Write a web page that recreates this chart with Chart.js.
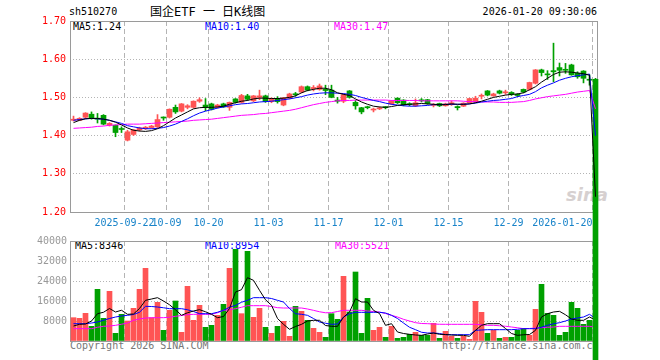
<!DOCTYPE html>
<html><head><meta charset="utf-8">
<script src="https://cdn.jsdelivr.net/npm/chart.js@4/dist/chart.umd.min.js"></script>
<style>
html,body{margin:0;padding:0;background:#fff;}
#wrap{position:relative;width:660px;height:360px;overflow:hidden;font-family:'DejaVu Sans Mono',monospace;font-size:10px;}
.t{position:absolute;white-space:pre;line-height:12px;}
canvas{position:absolute;left:0;top:0;width:660px;height:360px;}
</style></head><body>
<div id="wrap">
<div class="t" style="left:69px;top:6px;color:#000">sh510270</div>
<div class="t" style="left:150px;top:4px;font-size:12px;line-height:16px;font-family:'DejaVu Sans Mono','Noto Sans CJK SC',sans-serif;color:#000">国企ETF 一 日K线图</div>
<div class="t" style="right:63px;top:6px;color:#000">2026-01-20 09:30:06</div>
<div class="t" id="pl5" style="left:73px;top:21px;color:#000"></div>
<div class="t" id="pl10" style="left:205px;top:21px;color:#0000ff"></div>
<div class="t" id="pl30" style="left:334px;top:21px;color:#ff00ff"></div>
<div class="t" id="vl5" style="left:75px;top:240px;color:#000"></div>
<div class="t" id="vl10" style="left:205px;top:240px;color:#0000ff"></div>
<div class="t" id="vl30" style="left:335px;top:240px;color:#ff00ff"></div>
<div class="t" style="left:566px;top:184px;font:italic bold 18px 'DejaVu Sans',sans-serif;color:#d6d0d0">sina</div>
<div class="t" style="left:70px;top:340px;color:#777">Copyright 2026 SINA.COM</div>
<div class="t" style="left:442px;top:340px;color:#777">http://finance.sina.com.cn</div>
<canvas id="vol" width="660" height="360"></canvas>
<canvas id="price" width="660" height="360"></canvas>
</div>
<script>
const dates = ['2025-09-09','2025-09-10','2025-09-11','2025-09-12','2025-09-15','2025-09-16','2025-09-17','2025-09-18','2025-09-19',
'2025-09-22','2025-09-23','2025-09-24','2025-09-25','2025-09-26','2025-09-29','2025-09-30',
'2025-10-09','2025-10-10','2025-10-13','2025-10-14','2025-10-15','2025-10-16','2025-10-17',
'2025-10-20','2025-10-21','2025-10-22','2025-10-23','2025-10-24','2025-10-27','2025-10-28','2025-10-29','2025-10-30','2025-10-31',
'2025-11-03','2025-11-04','2025-11-05','2025-11-06','2025-11-07','2025-11-10','2025-11-11','2025-11-12','2025-11-13','2025-11-14',
'2025-11-17','2025-11-18','2025-11-19','2025-11-20','2025-11-21','2025-11-24','2025-11-25','2025-11-26','2025-11-27','2025-11-28',
'2025-12-01','2025-12-02','2025-12-03','2025-12-04','2025-12-05','2025-12-08','2025-12-09','2025-12-10','2025-12-11','2025-12-12',
'2025-12-15','2025-12-16','2025-12-17','2025-12-18','2025-12-19','2025-12-22','2025-12-23','2025-12-24','2025-12-25','2025-12-26',
'2025-12-29','2025-12-30','2025-12-31',
'2026-01-05','2026-01-06','2026-01-07','2026-01-08','2026-01-09','2026-01-12','2026-01-13','2026-01-14','2026-01-15','2026-01-16',
'2026-01-19','2026-01-20'];

const opens = [1.440,1.440,1.448,1.456,1.444,1.453,1.427,1.427,1.418,1.388,
1.403,1.415,1.418,1.421,1.423,1.448,1.448,1.474,1.464,1.474,
1.474,1.490,1.480,1.483,1.474,1.483,1.474,1.496,1.487,1.504,
1.491,1.500,1.504,1.489,1.497,1.480,1.498,1.509,1.514,1.528,
1.523,1.521,1.521,1.519,1.493,1.490,1.517,1.487,1.473,1.475,
1.467,1.470,1.474,1.483,1.498,1.493,1.483,1.478,1.493,1.494,
1.479,1.484,1.478,1.482,1.476,1.477,1.486,1.488,1.503,1.517,
1.504,1.517,1.512,1.513,1.508,1.521,1.521,1.537,1.572,1.561,
1.570,1.578,1.573,1.585,1.563,1.569,1.547,1.547];

const highs = [1.451,1.447,1.460,1.462,1.458,1.455,1.434,1.428,1.423,1.414,
1.416,1.422,1.424,1.427,1.455,1.449,1.470,1.480,1.484,1.481,
1.491,1.499,1.497,1.485,1.482,1.485,1.488,1.497,1.508,1.508,
1.505,1.519,1.506,1.499,1.502,1.500,1.511,1.513,1.530,1.530,
1.531,1.535,1.532,1.532,1.500,1.509,1.518,1.492,1.474,1.477,
1.472,1.475,1.476,1.492,1.499,1.494,1.486,1.496,1.497,1.495,
1.484,1.485,1.485,1.491,1.478,1.486,1.498,1.503,1.509,1.518,
1.511,1.519,1.519,1.515,1.510,1.522,1.540,1.573,1.574,1.570,
1.642,1.590,1.589,1.587,1.567,1.570,1.559,1.550];

const lows = [1.438,1.439,1.444,1.443,1.433,1.428,1.425,1.397,1.408,1.386,
1.400,1.412,1.416,1.419,1.421,1.440,1.446,1.458,1.462,1.470,
1.472,1.487,1.465,1.467,1.472,1.474,1.466,1.485,1.485,1.492,
1.489,1.494,1.487,1.486,1.485,1.478,1.496,1.503,1.512,1.517,
1.517,1.519,1.507,1.499,1.485,1.486,1.498,1.469,1.457,1.470,
1.462,1.468,1.470,1.481,1.484,1.478,1.478,1.476,1.488,1.482,
1.475,1.476,1.477,1.479,1.467,1.476,1.485,1.487,1.496,1.504,
1.503,1.509,1.508,1.505,1.502,1.512,1.519,1.535,1.556,1.547,
1.541,1.556,1.563,1.558,1.550,1.538,1.532,0];

const closes = [1.443,1.445,1.459,1.447,1.443,1.430,1.432,1.408,1.416,1.410,
1.415,1.420,1.422,1.425,1.442,1.446,1.469,1.462,1.483,1.478,
1.490,1.494,1.474,1.469,1.480,1.475,1.487,1.487,1.505,1.495,
1.504,1.504,1.489,1.497,1.489,1.499,1.509,1.507,1.528,1.519,
1.526,1.530,1.518,1.500,1.490,1.507,1.500,1.478,1.462,1.473,
1.469,1.472,1.473,1.491,1.486,1.480,1.481,1.486,1.491,1.484,
1.481,1.478,1.483,1.486,1.473,1.485,1.497,1.498,1.505,1.506,
1.509,1.511,1.514,1.508,1.505,1.514,1.539,1.572,1.565,1.559,
1.567,1.571,1.571,1.559,1.554,1.550,1.545,0];

const ma5 = [1.434,1.440,1.444,1.445,1.445,1.443,1.440,1.435,1.428,1.420,
1.414,1.412,1.411,1.413,1.418,1.426,1.436,1.446,1.454,1.462,
1.470,1.473,1.474,1.474,1.475,1.477,1.482,1.486,1.490,1.492,
1.496,1.498,1.498,1.497,1.497,1.498,1.500,1.504,1.512,1.518,
1.521,1.524,1.524,1.520,1.512,1.508,1.505,1.496,1.488,1.482,
1.477,1.475,1.474,1.476,1.479,1.481,1.482,1.483,1.484,1.483,
1.482,1.481,1.481,1.483,1.482,1.482,1.483,1.486,1.490,1.495,
1.500,1.503,1.506,1.508,1.509,1.512,1.520,1.528,1.540,1.550,
1.560,1.566,1.567,1.566,1.564,1.562,1.558,1.24];

const ma10 = [1.440,1.442,1.444,1.445,1.444,1.443,1.440,1.436,1.432,1.426,
1.423,1.420,1.418,1.418,1.419,1.421,1.425,1.430,1.437,1.444,
1.452,1.459,1.464,1.468,1.472,1.475,1.478,1.481,1.483,1.484,
1.486,1.488,1.489,1.490,1.492,1.494,1.496,1.499,1.502,1.506,
1.509,1.511,1.512,1.512,1.511,1.510,1.508,1.505,1.500,1.496,
1.492,1.489,1.485,1.482,1.480,1.478,1.477,1.477,1.478,1.479,
1.481,1.481,1.482,1.482,1.482,1.482,1.483,1.485,1.488,1.490,
1.492,1.493,1.495,1.497,1.502,1.505,1.508,1.515,1.525,1.532,
1.538,1.545,1.550,1.554,1.557,1.559,1.561,1.40];

const ma30 = [1.419,1.420,1.421,1.422,1.424,1.425,1.427,1.428,1.429,1.430,
1.430,1.430,1.431,1.432,1.433,1.434,1.435,1.436,1.437,1.438,
1.440,1.441,1.442,1.443,1.445,1.447,1.449,1.451,1.453,1.454,
1.455,1.457,1.458,1.460,1.462,1.464,1.466,1.469,1.473,1.477,
1.481,1.484,1.487,1.489,1.491,1.492,1.492,1.493,1.493,1.493,
1.493,1.493,1.493,1.492,1.492,1.492,1.492,1.492,1.491,1.491,
1.491,1.491,1.491,1.491,1.491,1.490,1.489,1.489,1.488,1.488,
1.488,1.487,1.487,1.487,1.488,1.489,1.492,1.496,1.499,1.502,
1.504,1.506,1.508,1.511,1.514,1.516,1.518,1.47];

const volumes = [9330,9070,11070,5870,20670,9070,19870,3070,10670,8000,
13070,20670,29070,9330,15470,4270,12270,16000,3470,21870,
8270,14270,5470,6270,10270,14670,29070,36670,10930,35870,
9470,13070,5470,3070,5870,7870,1870,13870,11870,8270,
5070,3470,1470,10930,8670,25870,11600,27600,3070,17070,
4270,5470,1470,5870,1070,1470,2670,3470,2270,2270,
7070,1070,3870,1870,1070,1870,670,15870,11470,3070,
4270,1070,1470,1470,4270,5070,2270,12670,22670,11070,
10270,2270,3470,15470,13070,6670,8270,0];

const vma5 = [6000,6670,6800,8000,10930,11500,13000,11600,12300,10670,
10800,13000,16270,16800,17330,16000,14500,12500,10270,11300,
12000,12530,11700,10670,9330,9800,13000,19600,20530,25330,
24270,20270,16500,14270,9000,6670,4670,5800,6670,8000,
8270,8270,6200,5870,5870,9500,11600,16930,15600,15600,
12270,11000,6270,6930,3600,3000,2670,2400,2270,2800,
3200,2670,2600,2400,2270,2270,1870,4270,6270,6930,
6930,6930,5000,3000,2270,2500,2600,4270,9600,10930,
11600,11870,10500,8800,8270,8270,9600,8346];

const vma10 = [6930,6930,6930,7200,7600,8300,9000,9600,10000,10270,
10600,11500,13870,13800,13600,13300,12930,12930,12930,12500,
11800,10930,10930,10930,11500,12270,13500,14270,15500,16270,
17330,17330,17330,17000,16270,15600,13000,10930,10670,10270,
9000,7600,7100,6670,6800,9600,10930,11470,11470,11470,
11470,11470,11200,10270,9000,7200,5500,4530,3500,3200,
3200,3000,2530,2530,2530,2530,2530,4270,4400,4530,
4530,4530,4530,4530,4700,4930,4930,4930,5500,6270,
6900,7330,8000,8800,9200,9600,10670,8954];

const vma30 = [4930,4930,4930,4930,5500,5870,6000,6270,6700,7200,
8270,8800,9200,9300,9330,9330,9500,9870,10200,10530,
10670,10670,10670,10670,11300,12270,12500,12930,13500,14130,
14130,14130,14130,13800,13330,13200,13200,13200,13200,12800,
12270,11700,11300,11330,11800,12270,12270,12270,12270,12000,
11800,11600,11000,10270,9600,8670,8000,7330,7000,6930,
6800,6700,6670,6670,6670,6670,6670,6670,6500,6270,
6270,6100,5900,5600,5300,4930,5000,5200,5330,5500,
5600,5870,5870,5870,5870,5870,5870,5521];

const tickDates = ['2025-09-22','2025-10-09','2025-10-20','2025-11-03','2025-11-17','2025-12-01','2025-12-15','2025-12-29','2026-01-20'];
const tickLabels = ['2025-09-22','10-09','10-20','11-03','11-17','12-01','12-15','12-29','2026-01-20'];
const priceTicks = [1.20,1.30,1.40,1.50,1.60,1.70];
const volumeTicks = [0,8000,16000,24000,32000,40000];

// ---- styling ----
const UP = '#ff5454', DOWN = '#00a000';
const GRID = '#b4b4b4', FRAME = '#9a9a9a';
const n = dates.length;
const X_MIN = -0.5 - 1/12, X_MAX = n - 0.5 - 1/12;
const tickPos = tickDates.map(d => dates.indexOf(d) - 0.5);
const barColors = closes.map((c,i) => c >= opens[i] ? UP : DOWN);

Chart.defaults.font.family = "'DejaVu Sans Mono', monospace";
Chart.defaults.font.size = 10;

document.getElementById('pl5').textContent = 'MA5:' + ma5[n-1].toFixed(2);
document.getElementById('pl10').textContent = 'MA10:' + ma10[n-1].toFixed(2);
document.getElementById('pl30').textContent = 'MA30:' + ma30[n-1].toFixed(2);
document.getElementById('vl5').textContent = 'MA5:' + vma5[n-1];
document.getElementById('vl10').textContent = 'MA10:' + vma10[n-1];
document.getElementById('vl30').textContent = 'MA30:' + vma30[n-1];

const frame = {
  id: 'frame',
  beforeDatasetsDraw(chart) {
    const {ctx, chartArea: a} = chart;
    ctx.save();
    ctx.strokeStyle = FRAME; ctx.lineWidth = 1;
    ctx.strokeRect(a.left + 0.5, a.top + 0.5, a.right - a.left - 1, a.bottom - a.top);
    ctx.restore();
  }
};

function lineDs(arr, color) {
  return {type: 'line', data: arr.map((v,i) => ({x: i, y: v})), borderColor: color, borderWidth: 1,
    pointRadius: 0, tension: 0, fill: false, order: 0};
}

function xScale(showTicks, height) {
  return {
    type: 'linear', min: X_MIN, max: X_MAX, offset: false,
    afterBuildTicks: s => { s.ticks = tickPos.map(v => ({value: v})); },
    afterFit: s => { s.height = height; },
    grid: {display: true, color: GRID, drawTicks: false, offset: false, lineWidth: 1},
    border: {display: false, dash: [5, 3]},
    ticks: {display: showTicks, autoSkip: false, maxRotation: 0, minRotation: 0, padding: 5, color: '#1883c9',
      callback: (v, i) => {
        const l = tickLabels[i];
        return i === tickLabels.length - 1 ? l + ' '.repeat(l.length) : l;
      }}
  };
}

new Chart(document.getElementById('vol'), {
  type: 'bar',
  data: {datasets: [
    lineDs(vma5, '#000000'), lineDs(vma10, '#0000ff'), lineDs(vma30, '#ff00ff'),
    {type: 'bar', data: volumes.map((v,i) => ({x: i, y: v})), backgroundColor: barColors,
      barThickness: 5, grouped: false, order: 1}
  ]},
  options: {
    responsive: false, animation: false, events: [],
    layout: {padding: {top: 241, right: 62, left: 0, bottom: 0}},
    plugins: {legend: {display: false}, tooltip: {enabled: false}},
    scales: {
      x: xScale(false, 19),
      y: {min: 0, max: 40000,
        afterBuildTicks: s => { s.ticks = volumeTicks.map(v => ({value: v})); },
        afterFit: s => { s.width = 70; },
        grid: {color: GRID, drawTicks: false, lineWidth: 1},
        border: {display: false, dash: [1, 2]},
        ticks: {color: '#999999', padding: 3, callback: v => v === 0 ? '' : String(v)}}
    }
  },
  plugins: [frame]
});

new Chart(document.getElementById('price'), {
  type: 'bar',
  data: {datasets: [
    lineDs(ma5, '#000000'), lineDs(ma10, '#0000ff'), lineDs(ma30, '#ff00ff'),
    {type: 'bar', data: opens.map((o,i) => ({x: i, y: [Math.min(o, closes[i]), Math.max(o, closes[i])]})),
      backgroundColor: barColors, barThickness: 5, grouped: false, minBarLength: 1, clip: false, order: 1},
    {type: 'bar', data: lows.map((l,i) => ({x: i, y: [l, highs[i]]})),
      backgroundColor: barColors, barThickness: 1, grouped: false, order: 2}
  ]},
  options: {
    responsive: false, animation: false, events: [],
    layout: {padding: {top: 21, right: 62, left: 0, bottom: 0}},
    plugins: {legend: {display: false}, tooltip: {enabled: false}},
    scales: {
      x: xScale(true, 148),
      y: {min: 1.2, max: 1.7,
        afterBuildTicks: s => { s.ticks = priceTicks.map(v => ({value: v})); },
        afterFit: s => { s.width = 70; },
        grid: {color: GRID, drawTicks: false, lineWidth: 1},
        border: {display: false, dash: [1, 2]},
        ticks: {color: '#ff0000', padding: 4, callback: v => Number(v).toFixed(2)}}
    }
  },
  plugins: [frame]
});
</script>
</body></html>
